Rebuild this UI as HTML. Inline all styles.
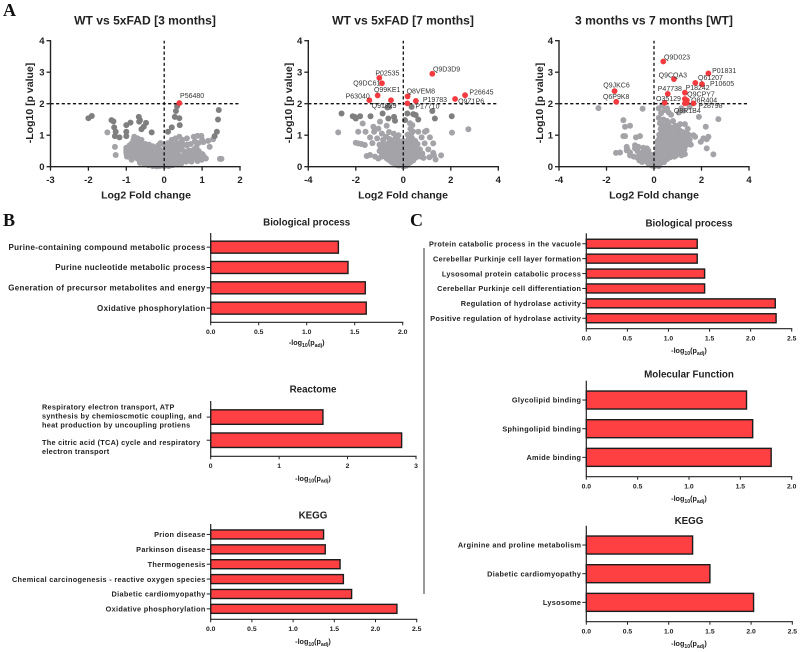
<!DOCTYPE html>
<html lang="en">
<head>
<meta charset="utf-8">
<title>Volcano plots and enrichment charts</title>
<style>
html,body{margin:0;padding:0;background:#fff;width:800px;height:652px;overflow:hidden}
svg{display:block;filter:blur(.3px)}
text{font-family:"Liberation Sans",sans-serif;fill:#222}
</style>
</head>
<body>
<svg id="fig" xmlns="http://www.w3.org/2000/svg" width="800" height="652" viewBox="0 0 800 652">
<text x="3" y="16" style="font-family:'Liberation Serif',serif;font-weight:bold;font-size:18px;fill:#111">A</text>
<text x="3" y="226" style="font-family:'Liberation Serif',serif;font-weight:bold;font-size:18px;fill:#111">B</text>
<text x="410" y="226" style="font-family:'Liberation Serif',serif;font-weight:bold;font-size:18px;fill:#111">C</text>
<line x1="424" y1="248" x2="424" y2="594" stroke="#333" stroke-width="1"/>
</svg>
<script>
/* ---------- volcano data ---------- */
const v1Gray = [[-1.5,1.09],[-1.3,.63],[-1.28,.37],[-1,.6],[-1,.52],[-1,.45],[-.99,.38],[-.98,.32],[-.91,.68],[-.9,.55],[-.89,.46],[-.92,.36],[-.88,.28],[-.8,.7],[-.82,.6],[-.79,.5],[-.81,.4],[-.78,.3],[-.79,.95],[-.81,.85],[-.7,.9],[-.72,.8],[-.69,.65],[-.71,.5],[-.68,.38],[-.7,.25],[-.6,.85],[-.62,.62],[-.59,.5],[-.61,.4],[-.58,.28],[-.6,.18],[-.5,.72],[-.52,.6],[-.49,.5],[-.51,.36],[-.48,.22],[-.47,.12],[-.4,.7],[-.42,.55],[-.39,.42],[-.41,.3],[-.38,.18],[-.36,.1],[-.3,.65],[-.31,.5],[-.29,.38],[-.3,.25],[-.28,.12],[-.26,.06],[-.2,.6],[-.21,.45],[-.19,.3],[-.2,.18],[-.18,.08],[-.16,.03],[-.1,.75],[-.11,.55],[-.09,.4],[-.1,.25],[-.08,.12],[-.06,.04],[0,.7],[-.01,.5],[.01,.35],[0,.2],[.02,.1],[0,.02],[.1,.75],[.09,.6],[.11,.42],[.1,.25],[.08,.12],[.06,.04],[.2,.85],[.19,.7],[.21,.55],[.2,.38],[.18,.22],[.16,.1],[.3,.9],[.31,.72],[.29,.5],[.3,.32],[.28,.15],[.4,.95],[.39,.75],[.41,.55],[.4,.35],[.38,.2],[.5,.7],[.51,.5],[.49,.3],[.48,.18],[.6,.9],[.59,.68],[.61,.45],[.6,.28],[.7,.72],[.71,.5],[.69,.35],[.68,.25],[.78,.95],[.81,.8],[.79,.55],[.8,.4],[.82,.28],[.88,.98],[.9,.75],[.91,.5],[.89,.3],[.98,.98],[1,.85],[1.01,.4],[1,.3],[.99,.22],[1.03,.78],[1.16,.82],[1.29,.87],[1.2,.63],[1.47,.25],[1.51,.25],[.6,.7],[-.85,.75],[.48,.85],[.34,.62],[-.15,.68],[.15,.5],[-.25,.35],[-.55,.33],[-.75,.45],[.55,.4],[.75,.42],[.25,.28],[.05,.15],[-.05,.15],[-.95,.62],[-.74,.6],[-.65,.72],[-.55,.68],[-.45,.62],[-.35,.58],[-.25,.55],[-.86,.22],[-.64,.12],[-.52,.08],[-.42,.05],[-.3,.02],[-.2,.01],[-.12,.02],[.12,.02],[.22,.05],[.35,.1],[.45,.1],[.58,.16],[.72,.16],[.88,.18],[1.05,.32],[1.1,.26],[.95,.42],[.85,.62],[.65,.52],[.45,.62],[.25,.62],[.05,.58],[-.05,.45],[.35,.45],[-.35,.3],[-.65,.3]];
const v1Dark = [[-2,1.54],[-1.91,1.61],[-1.39,1.48],[-1.34,1.44],[-1.32,1.25],[-1.28,1.11],[-1.3,.97],[-1.18,.93],[-1,1.32],[-.89,1.4],[-1,1.11],[-1,.97],[-.67,1.58],[-.64,1.48],[-.66,1.43],[-.48,1.39],[-.54,1.27],[-.6,1.19],[-.33,1.09],[.1,1.11],[.2,1.25],[.28,1.58],[.4,1.54],[.41,1.32],[.31,1.77],[.34,1.92],[1.44,1.8],[1.42,1.5],[1.39,1.11],[1.33,.97]];
const v1RedX = [.4];
const v1RedY = [2.02];
const v1Labels = ["P56480"];

const v2Gray = [[-2.74,1.09],[-1.71,1.37],[2.74,1.19],[2.05,1.08],[-1.9,1.11],[-1.59,1.11],[-2,.76],[-1.9,.74],[-1.76,.72],[-1.62,.69],[-1.4,.93],[-1.26,1.27],[-1.05,1.21],[-.98,1.43],[-1.23,1.11],[-1.54,.34],[-1.4,.37],[-1.19,.32],[-1.05,.26],[1.26,.44],[1.29,.36],[1.59,.36],[1.36,.23],[.63,1.11],[.91,1.11],[.98,1.14],[.77,.93],[1.12,.93],[1.26,.74],[.9,.74],[1.05,.55],[.7,.55],[1.1,.3],[.85,.28],[-1.3,.75],[-1.1,.9],[-1,.7],[-.9,1.05],[-.85,.85],[-.8,.6],[-.8,.4],[-.7,1.3],[-.72,.95],[-.68,.72],[-.7,.5],[-.68,.25],[-.6,1.1],[-.58,.88],[-.6,.62],[-.57,.4],[-.58,.2],[-.5,.75],[-.48,.58],[-.5,.45],[-.47,.3],[-.48,.14],[-.4,1.05],[-.38,.85],[-.4,.65],[-.37,.5],[-.38,.36],[-.36,.2],[-.35,.1],[-.3,.95],[-.28,.72],[-.3,.58],[-.27,.42],[-.28,.28],[-.26,.14],[-.2,1.0],[-.18,.8],[-.2,.6],[-.17,.48],[-.18,.32],[-.16,.2],[-.15,.08],[-.1,.7],[-.08,.55],[-.1,.4],[-.07,.26],[-.08,.12],[-.05,.04],[0,.82],[.02,.6],[0,.44],[.03,.3],[0,.18],[.01,.06],[0,.01],[.08,.62],[.1,.46],[.07,.3],[.09,.16],[.05,.08],[.18,1.02],[.2,.82],[.17,.62],[.19,.46],[.16,.3],[.15,.14],[.28,1.38],[.3,1.2],[.27,.98],[.3,.78],[.28,.58],[.26,.4],[.25,.22],[.38,1.32],[.4,1.12],[.37,.9],[.39,.7],[.36,.5],[.35,.3],[.5,.82],[.52,.6],[.48,.42],[.46,.26],[.6,.72],[.62,.48],[.58,.36],[.74,.32],[.8,.42],[-.9,.42],[-1,.5],[-.95,.6],[-.88,.7],[-.92,.32],[-.78,.5],[-.74,.3],[-.64,.32],[-.62,.5],[-.54,.54],[-.54,.66],[-.54,.26],[-.44,.4],[-.44,.55],[-.44,.75],[-.44,.26],[-.42,.12],[-.34,.7],[-.34,.44],[-.33,.28],[-.32,.18],[-.3,.06],[-.24,.86],[-.24,.66],[-.24,.52],[-.23,.38],[-.22,.24],[-.22,.12],[-.2,.04],[-.14,.6],[-.13,.42],[-.13,.3],[-.12,.16],[-.12,.06],[-.04,.7],[-.03,.5],[-.03,.36],[-.03,.22],[-.02,.1],[.04,.72],[.05,.52],[.05,.38],[.05,.22],[.04,.02],[.13,.56],[.13,.38],[.13,.24],[.12,.1],[.12,.03],[.24,.7],[.23,.5],[.22,.34],[.21,.2],[.2,.08],[.33,.62],[.32,.44],[.31,.26],[.3,.14],[.44,.56],[.44,.38],[.42,.2],[.55,.5],[.55,.3],[.34,1.05],[.24,.9]];
const v2Dark = [[-2.6,1.69],[-2.13,1.6],[-2.05,1.58],[-2,1.53],[-1.82,1.6],[-1.38,1.6],[-.87,1.69],[-.67,1.88],[-.59,1.9],[-.63,1.53],[-.39,1.58],[-.35,1.46],[.17,1.69],[.35,1.9],[.42,1.67],[.52,1.64],[.63,1.5],[.07,1.48],[1.22,1.77],[1.33,1.53],[2.04,1.6]];
const v2RedX = [1.22,-1.01,-.9,-1.08,-1.43,-.52,.18,.17,.53,2.18,2.6];
const v2RedY = [2.95,2.82,2.65,2.26,2.11,2.11,2.23,2.01,2.09,2.15,2.27];
const v2Labels = ["Q9D3D9","P02535","Q9DC61","Q99KE1","P63040","Q91829","Q8VEM8","P17710","P19783","Q9Z1P6","P26645"];

const v3Gray = [[-2.34,1.86],[-.48,1.84],[-1.29,1.48],[-1.01,1.3],[-1.22,1.27],[-1.29,.97],[-1.22,.97],[-.76,.93],[-.59,.97],[-1.15,.63],[-1.12,.55],[-1.6,.44],[-1.43,.45],[-1.15,.52],[-1.01,.45],[-1.01,.36],[-.8,.68],[-.66,.63],[-.8,.58],[-.7,.5],[-.6,.42],[-.85,.32],[-.72,.3],[-.55,.28],[-.45,.6],[-.4,.5],[-.42,.36],[-.4,.22],[-.62,.2],[-.5,.15],[-.3,.58],[-.28,.42],[-.3,.28],[-.28,.14],[-.2,.4],[-.18,.25],[-.16,.1],[-.08,.3],[-.06,.16],[-.04,.05],[2.5,.39],[2.22,.58],[1.97,.79],[2.08,.9],[2.22,.87],[2.29,.95],[2.71,1.51],[2.18,1.27],[1.89,1.58],[1.66,1],[1.73,.95],[1.5,1.9],[1.42,1.2],[1.3,1.35],[1.2,1.1],[1.1,1.35],[1,1.25],[.9,1.3],[.2,1.85],[.3,1.7],[.35,1.95],[.45,1.8],[.55,1.85],[.62,1.72],[.72,1.65],[1.05,1.72],[1.15,1.85],[1.25,1.78],[.8,1.45],[.2,1.55],[.25,1.38],[.28,1.2],[.22,1.02],[.2,.85],[.18,.7],[.15,.55],[.12,.42],[.1,.3],[.08,.18],[.05,.08],[.02,.02],[.4,1.5],[.38,1.32],[.4,1.15],[.36,.98],[.38,.8],[.35,.64],[.32,.48],[.28,.32],[.22,.18],[.55,1.45],[.52,1.25],[.55,1.05],[.5,.88],[.52,.7],[.48,.52],[.44,.36],[.36,.2],[.7,1.25],[.68,1.05],[.72,.88],[.66,.7],[.68,.55],[.62,.38],[.55,.24],[.85,1.1],[.82,.92],[.86,.75],[.8,.58],[.78,.4],[1.0,1.02],[.98,.82],[1.02,.68],[.95,.52],[.92,.35],[1.12,.9],[1.15,.7],[1.1,.55],[1.2,.45],[1.3,.88],[1.35,.68],[1.28,.55],[1.3,.4],[1.45,1.02],[1.5,.85],[1.42,.72],[1.55,.7],[.2,.02],[.12,.05],[-.02,.14],[.02,.26],[-.5,.45],[-.55,.38],[-.62,.32],[-.48,.3],[-.35,.48],[-.35,.34],[-.35,.2],[-.24,.52],[-.24,.34],[-.22,.2],[-.22,.08],[-.12,.38],[-.12,.24],[-.1,.12],[-.1,.04],[-.02,.3],[0,.08],[0,.02],[.06,.3],[.06,.18],[.08,.42],[.14,.8],[.14,.62],[.14,.48],[.14,.24],[.12,.12],[.24,.92],[.24,.76],[.24,.6],[.22,.46],[.2,.3],[.18,.1],[.32,1.1],[.32,.92],[.3,.76],[.28,.6],[.26,.42],[.24,.26],[.3,.12],[.45,1.25],[.45,1.05],[.44,.9],[.44,.72],[.42,.58],[.4,.42],[.4,.28],[.42,.14],[.6,1.35],[.6,1.15],[.6,.96],[.6,.8],[.58,.62],[.56,.46],[.52,.32],[.76,1.15],[.76,.98],[.76,.78],[.74,.62],[.72,.46],[.68,.3],[.92,1.12],[.92,.98],[.92,.64],[.88,.48],[.85,.32],[1.08,1.15],[1.08,.95],[1.08,.78],[1.05,.45],[1.22,.95],[1.22,.78],[1.22,.62],[1.38,1.05],[1.38,.8],[1.16,.36]];
const v3Dark = [];
const v3RedX = [.39,2.29,.84,1.74,2.02,-1.66,.58,1.3,-1.59,.45,1.3,1.38,1.3,1.66,1.38];
const v3RedY = [3.34,2.96,2.78,2.66,2.62,2.4,2.31,2.35,2.06,2.03,2.15,2.11,2.01,2.01,2.03];
const v3Labels = ["Q9D023","P01831","Q9CQA3","Q61207","P10605","Q9JKC6","P47738","P18242","Q6P9K8","O35129","Q9CPY7","Q8R404","Q8R1B4","P28798",""];

const v1XTicks = [-3,-2,-1,0,1,2];
const v2XTicks = [-4,-2,0,2,4];
const v3XTicks = [-4,-2,0,2,4];
const volcanoYTicks = [0,1,2,3,4];

/* ---------- bar data ---------- */
const b1Categories = ["Purine-containing compound metabolic process","Purine nucleotide metabolic process","Generation of precursor metabolites and energy","Oxidative phosphorylation"];
const b1Values = [1.33,1.43,1.61,1.62];
const b1Ticks = ["0.0","0.5","1.0","1.5","2.0"];
const b2Categories = [["Respiratory electron transport, ATP","synthesis by chemioscmotic coupling, and","heat production by uncoupling protiens"],["The citric acid (TCA) cycle and respiratory","electron transport"]];
const b2Values = [1.64,2.79];
const b2Ticks = ["0","1","2","3"];
const b3Categories = ["Prion disease","Parkinson disease","Thermogenesis","Chemical carcinogenesis - reactive oxygen species","Diabetic cardiomyopathy","Oxidative phosphorylation"];
const b3Values = [1.37,1.39,1.57,1.61,1.71,2.26];
const b3Ticks = ["0.0","0.5","1.0","1.5","2.0","2.5"];
const c1Categories = ["Protein catabolic process in the vacuole","Cerebellar Purkinje cell layer formation","Lysosomal protein catabolic process","Cerebellar Purkinje cell differentiation","Regulation of hydrolase activity","Positive regulation of hydrolase activity"];
const c1Values = [1.35,1.35,1.44,1.44,2.3,2.31];
const c1Ticks = ["0.0","0.5","1.0","1.5","2.0","2.5"];
const c2Categories = ["Glycolipid binding","Sphingolipid binding","Amide binding"];
const c2Values = [1.56,1.62,1.8];
const c2Ticks = ["0.0","0.5","1.0","1.5","2.0"];
const c3Categories = ["Arginine and proline metabolism","Diabetic cardiomyopathy","Lysosome"];
const c3Values = [1.29,1.5,2.03];
const c3Ticks = ["0.0","0.5","1.0","1.5","2.0","2.5"];

/* ---------- layout (not data) ---------- */
const v1LabelDx = [.7];
const v1LabelDy = [-7.7];
const v2LabelDx = [.7,-4,-28.7,-3.7,-23.7,-19.3,-1,8,7,3,4.3];
const v2LabelDy = [-4.7,-5,-.3,-6,-4,5.3,-5.7,2.7,-1.3,2,-3];
const v3LabelDx = [.7,3.7,-15.3,2.7,8,-11.3,-10,.7,-13.3,-8.7,2.3,4.3,-11,5,0];
const v3LabelDy = [-4.7,-3,-4.3,-5.3,-.7,-6,-5.3,-5.3,-5.3,-4.3,-5,-.3,7.3,2,0];

const NS = "http://www.w3.org/2000/svg";
const svg = document.getElementById("fig");
function mk(tag, attrs, parent, txt){
  const e = document.createElementNS(NS, tag);
  for (const k in attrs) e.setAttribute(k, attrs[k]);
  if (txt !== undefined) e.textContent = txt;
  (parent || svg).appendChild(e);
  return e;
}
const INK = "#222";

function volcano(o){
  const g = mk("g", {});
  
  
  const sx = v => o.x0 + (v - o.xMin) * (o.x1 - o.x0) / (o.xMax - o.xMin);
  const sy = v => 166.7 - v * 31.5;
  o.gray.forEach(p => {
    const c = mk("circle", {cx: sx(p[0]), cy: sy(p[1]), r: 3, fill: "#a3a3a8"}, g);
    
    
  });
  o.dark.forEach(p => {
    const c = mk("circle", {cx: sx(p[0]), cy: sy(p[1]), r: 3, fill: "#7f7f7f"}, g);
    
    
  });
  const hd = mk("line", {x1: sx(o.xMin), x2: sx(o.xMax), y1: sy(2), y2: sy(2), stroke: "#111", "stroke-width": 1.3, "stroke-dasharray": "3.2 2.4"}, g);
  
  
  const vd = mk("line", {x1: sx(0), x2: sx(0), y1: sy(0), y2: sy(4), stroke: "#111", "stroke-width": 1.3, "stroke-dasharray": "3.2 2.4"}, g);
  
  
  o.redX.forEach((x, i) => {
    const c = mk("circle", {cx: sx(x), cy: sy(o.redY[i]), r: 2.9, fill: "#f23a3f"}, g);
    
    
    if (o.labels[i]) {
      const t = mk("text", {x: sx(x) + o.dx[i], y: sy(o.redY[i]) + o.dy[i] + 2.5, "font-size": 7, style: "fill:#333"}, g, o.labels[i]);
      
      
    }
  });
  const xa = mk("line", {x1: sx(o.xMin) - .7, x2: sx(o.xMax) + .7, y1: sy(0), y2: sy(0), stroke: INK, "stroke-width": 1.4}, g);
  
  
  const ya = mk("line", {x1: sx(o.xMin), x2: sx(o.xMin), y1: sy(0), y2: sy(4) - .7, stroke: INK, "stroke-width": 1.4}, g);
  
  
  o.xTicks.forEach(v => {
    const l = mk("line", {x1: sx(v), x2: sx(v), y1: sy(0), y2: sy(0) + 4, stroke: INK, "stroke-width": 1.3}, g);
    
    
    const t = mk("text", {x: sx(v), y: 183, "text-anchor": "middle", "font-size": 9.5, "font-weight": "bold"}, g, v);
    
    
  });
  volcanoYTicks.forEach(v => {
    const l = mk("line", {x1: sx(o.xMin) - 4, x2: sx(o.xMin), y1: sy(v), y2: sy(v), stroke: INK, "stroke-width": 1.3}, g);
    
    
    const t = mk("text", {x: sx(o.xMin) - 6, y: sy(v) + 3.4, "text-anchor": "end", "font-size": 9.5, "font-weight": "bold"}, g, v);
    
    
  });
  const tt = mk("text", {x: o.titleX, y: 24.3, "text-anchor": "middle", "font-size": 12.1, "font-weight": "bold"}, g, o.title);
  
  
  const xt = mk("text", {x: o.xTitleX, y: 198.5, "text-anchor": "middle", "font-size": 10.5, "font-weight": "bold"}, g, "Log2 Fold change");
  
  
  const yt = mk("text", {transform: "translate(" + o.yTitleX + ",103) rotate(-90)", "text-anchor": "middle", "font-size": 10.5, "font-weight": "bold"}, g, "-Log10 [p value]");
  
  
}

function barChart(o){
  const g = mk("g", {});
  
  
  const tickVals = o.ticks.map(Number);
  const tMax = tickVals[tickVals.length - 1];
  const sx = v => o.x0 + v * (o.x1 - o.x0) / tMax;
  const band = (o.axisY - o.top - o.pad * 2) / o.values.length;
  const sy = i => o.top + o.pad + band * (i + .5);
  o.values.forEach((v, i) => {
    const b = mk("rect", {x: o.x0, y: sy(i) - o.h / 2, width: sx(v) - o.x0, height: o.h, fill: "#fe4043", stroke: "#1c1c1c", "stroke-width": 1.4}, g);
    
    
    const tk = mk("line", {x1: o.x0 - 4, x2: o.x0, y1: sy(i), y2: sy(i), stroke: INK, "stroke-width": 1}, g);
    
    
    const cat = o.categories[i];
    if (Array.isArray(cat)) {
      const lh = 9.1;
      cat.forEach((s, j) => {
        const t = mk("text", {x: o.wrapX, y: sy(i) + o.wrapShift[i] + (j - (cat.length - 1) / 2) * lh + 2.6, "font-size": o.fs, "font-weight": "bold", "letter-spacing": o.ls}, g, s);
        
        
      });
    } else {
      const t = mk("text", {x: o.x0 - 5, y: sy(i) + 2.7, "text-anchor": "end", "font-size": o.fs, "font-weight": "bold", "letter-spacing": o.ls}, g, cat);
      
      
    }
  });
  const xa = mk("line", {x1: o.x0 - .6, x2: o.x1 + .6, y1: o.axisY, y2: o.axisY, stroke: INK, "stroke-width": 1.2}, g);
  
  
  const ya = mk("line", {x1: o.x0, x2: o.x0, y1: o.top, y2: o.axisY, stroke: INK, "stroke-width": 1.2}, g);
  
  
  o.ticks.forEach((s, i) => {
    const v = tickVals[i];
    const l = mk("line", {x1: sx(v), x2: sx(v), y1: o.axisY, y2: o.axisY + 3, stroke: INK, "stroke-width": 1}, g);
    
    
    const t = mk("text", {x: sx(v), y: o.axisY + 11.7, "text-anchor": "middle", "font-size": 6.8, "font-weight": "bold"}, g, s);
    
    
  });
  const tt = mk("text", {x: o.titleX, y: o.titleY + 3.4, "text-anchor": "middle", "font-size": 9.8, "font-weight": "bold"}, g, o.title);
  
  
  const xt = mk("text", {x: o.titleX, y: o.xTitleY + 2.2, "text-anchor": "middle", "font-size": 7.2, "font-weight": "bold"}, g);
  
  
  mk("tspan", {}, xt, "-log");
  mk("tspan", {dy: 1.8, "font-size": 5.2}, xt, "10");
  mk("tspan", {dy: -1.8}, xt, "(p");
  mk("tspan", {dy: 1.8, "font-size": 5.2}, xt, "adj");
  mk("tspan", {dy: -1.8}, xt, ")");
}

volcano({id:"wt-vs-5xfad-3m", title:"WT vs 5xFAD [3 months]", titleX:145, xTitleX:146, yTitleX:33, x0:50.5, x1:240, xMin:-3, xMax:2, xTicks:v1XTicks, gray:v1Gray, dark:v1Dark, redX:v1RedX, redY:v1RedY, labels:v1Labels, dx:v1LabelDx, dy:v1LabelDy});
volcano({id:"wt-vs-5xfad-7m", title:"WT vs 5xFAD [7 months]", titleX:403, xTitleX:403, yTitleX:292, x0:308.3, x1:498.3, xMin:-4, xMax:4, xTicks:v2XTicks, gray:v2Gray, dark:v2Dark, redX:v2RedX, redY:v2RedY, labels:v2Labels, dx:v2LabelDx, dy:v2LabelDy});
volcano({id:"3m-vs-7m-wt", title:"3 months vs 7 months [WT]", titleX:654, xTitleX:654, yTitleX:543, x0:559, x1:749, xMin:-4, xMax:4, xTicks:v3XTicks, gray:v3Gray, dark:v3Dark, redX:v3RedX, redY:v3RedY, labels:v3Labels, dx:v3LabelDx, dy:v3LabelDy});

barChart({id:"b-biological-process", title:"Biological process", titleX:306.7, titleY:222, xTitleY:343, x0:210.7, x1:402.7, top:233, axisY:322.3, pad:4, h:12, categories:b1Categories, values:b1Values, ticks:b1Ticks, fs:8, ls:.31});
barChart({id:"b-reactome", title:"Reactome", titleX:313, titleY:389, xTitleY:478.7, x0:210.7, x1:416, top:401, axisY:456.3, pad:4.5, h:14.5, categories:b2Categories, values:b2Values, ticks:b2Ticks, fs:7.3, ls:.28, wrapX:42, wrapShift:[-1.3,6.5]});
barChart({id:"b-kegg", title:"KEGG", titleX:313, titleY:515, xTitleY:642, x0:210.7, x1:416.7, top:524, axisY:619.3, pad:3, h:9, categories:b3Categories, values:b3Values, ticks:b3Ticks, fs:7.3, ls:.32});
barChart({id:"c-biological-process", title:"Biological process", titleX:689, titleY:223, xTitleY:351, x0:586.3, x1:791.7, top:233.3, axisY:328.7, pad:3, h:9, categories:c1Categories, values:c1Values, ticks:c1Ticks, fs:7.3, ls:.32});
barChart({id:"c-molecular-function", title:"Molecular Function", titleX:689, titleY:374.3, xTitleY:499, x0:586.3, x1:791.7, top:380.7, axisY:476.7, pad:5, h:18, categories:c2Categories, values:c2Values, ticks:c2Ticks, fs:7.3, ls:.32});
barChart({id:"c-kegg", title:"KEGG", titleX:689, titleY:520.7, xTitleY:644, x0:586.3, x1:792.3, top:525.7, axisY:621.7, pad:5, h:18, categories:c3Categories, values:c3Values, ticks:c3Ticks, fs:7.3, ls:.32});
</script>
</body>
</html>
